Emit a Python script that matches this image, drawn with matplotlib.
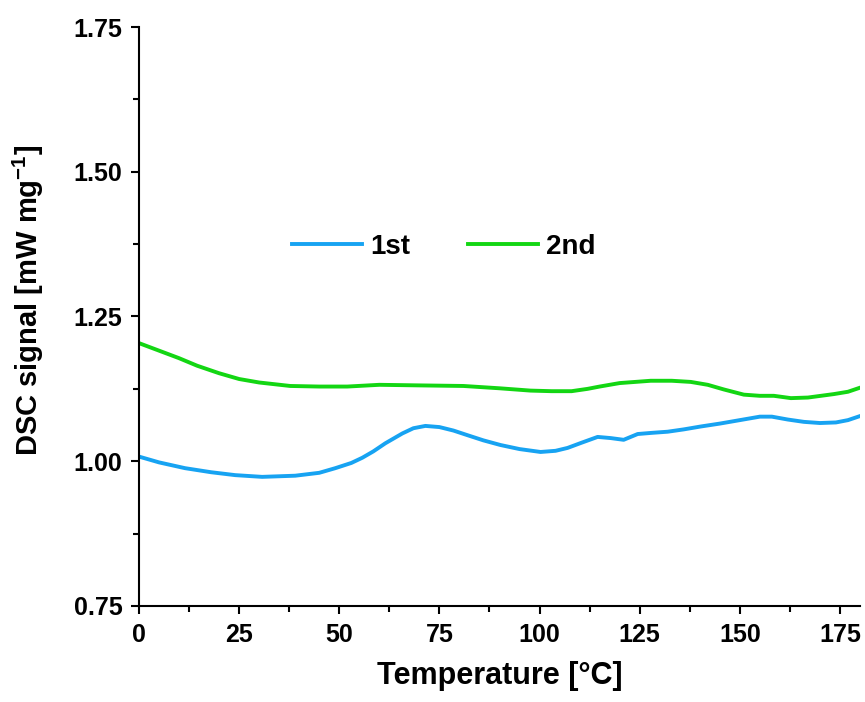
import matplotlib.pyplot as plt
from matplotlib.ticker import MultipleLocator

plt.rcParams['font.family'] = ['Liberation Sans', 'DejaVu Sans']
plt.rcParams['font.weight'] = 'bold'
plt.rcParams['mathtext.fontset'] = 'custom'
plt.rcParams['mathtext.bf'] = 'Liberation Sans:bold'
plt.rcParams['mathtext.rm'] = 'Liberation Sans:bold'

# values
t_1st = [0, 5, 11.5, 18, 24, 30.75, 39, 45, 49, 53, 55.75, 58.5, 61.5, 65.75,
         68.5, 71.5, 75, 78.5, 82, 86, 90.25, 95, 100.25, 104, 107, 110.5,
         114.5, 117.75, 121, 124.5, 128, 132, 136, 140.25, 145, 150, 155,
         158, 162, 166, 170, 174, 177, 180]
dsc_1st = [1.008, 0.998, 0.988, 0.981, 0.976, 0.973, 0.975, 0.980, 0.988, 0.997,
           1.006, 1.017, 1.031, 1.048, 1.057, 1.061, 1.059, 1.053, 1.045, 1.036,
           1.028, 1.021, 1.016, 1.018, 1.023, 1.032, 1.042, 1.040, 1.037, 1.047,
           1.049, 1.051, 1.055, 1.060, 1.065, 1.071, 1.077, 1.077, 1.072, 1.068,
           1.066, 1.067, 1.071, 1.078]

t_2nd = [0, 5, 10, 14.5, 20, 25, 30, 37.75, 45, 52, 60, 70, 81, 90, 97.75,
         103, 108, 112, 115, 120, 127.75, 133, 137.75, 142, 146, 151, 155,
         158.5, 162.75, 167, 173.5, 177, 180]
dsc_2nd = [1.204, 1.191, 1.178, 1.165, 1.152, 1.142, 1.136, 1.130, 1.129, 1.129,
           1.132, 1.131, 1.130, 1.126, 1.122, 1.121, 1.121, 1.125, 1.129, 1.135,
           1.139, 1.139, 1.137, 1.132, 1.124, 1.115, 1.113, 1.113, 1.109, 1.110,
           1.116, 1.120, 1.127]

labels = ['1st', '2nd']
colors = ['#17a3f2', '#13d613']

fig = plt.figure(figsize=(8.65, 7.02), dpi=100)
ax = fig.add_axes([0.1607, 0.1368, 0.8335, 0.8247])

ax.plot(t_1st, dsc_1st, color=colors[0], linewidth=2.8, label=labels[0])
ax.plot(t_2nd, dsc_2nd, color=colors[1], linewidth=2.8, label=labels[1])

ax.set_xlim(0, 180)
ax.set_ylim(0.75, 1.75)
ax.xaxis.set_major_locator(MultipleLocator(25))
ax.xaxis.set_minor_locator(MultipleLocator(12.5))
ax.yaxis.set_major_locator(MultipleLocator(0.25))
ax.yaxis.set_minor_locator(MultipleLocator(0.125))
ax.yaxis.set_major_formatter(plt.FormatStrFormatter('%.2f'))

for s in ['top', 'right']:
    ax.spines[s].set_visible(False)
for s in ['left', 'bottom']:
    ax.spines[s].set_linewidth(1.5)

ax.tick_params(which='major', direction='out', length=6, width=1.5,
               labelsize=18, pad=6)
ax.tick_params(which='minor', direction='out', length=4, width=1.5)
for lab in ax.get_xticklabels() + ax.get_yticklabels():
    lab.set_fontweight('bold')

ax.set_xlabel('Temperature [°C]', fontsize=22, fontweight='bold', labelpad=10)
ax.set_ylabel('DSC signal [mW mg$^{\\mathbf{-1}}$]', fontsize=21,
              fontweight='bold')
ax.yaxis.set_label_coords(-0.129, 0.527)

ax.legend(loc='center', bbox_to_anchor=(0.423, 0.62), ncol=2, frameon=False,
          handlelength=2.5, handletextpad=0.3, columnspacing=2.1,
          prop={'weight': 'bold', 'size': 20})

plt.savefig('out.png', dpi=100)
